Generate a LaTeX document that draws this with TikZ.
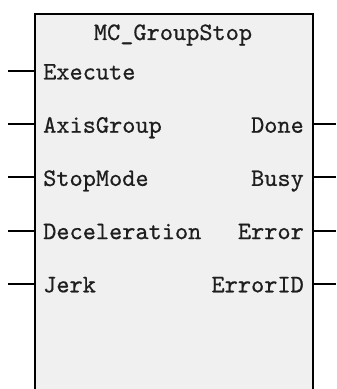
\documentclass[tikz,border=0pt]{standalone}
\usepackage{fontspec}
\usetikzlibrary{positioning}
\newfontfamily\fbfont{lmmono10-regular.otf}[FakeBold=0.6]
\definecolor{ink}{HTML}{1E1E1E}
\definecolor{blockfill}{HTML}{F0F0F0}
\tikzset{every node/.style={font=\fbfont\fontsize{25}{30}\selectfont,text=ink,inner sep=0pt},
 fblock/.style={draw=black,fill=blockfill,line width=2pt,minimum width=9.73cm,minimum height=13.6cm,anchor=north west},
 pin/.style={draw=black,line width=2pt}}

\begin{document}
\begin{tikzpicture}[x=0.035cm,y=-0.035cm]

\path[use as bounding box] (0,0) rectangle (336,389);
\clip (0,0) rectangle (336,389);
\node[fblock] (fb) at (34,13) {};
\node[anchor=base] (title) at (173,40) {MC\_GroupStop};
\foreach \lbl [count=\i] in {Execute,AxisGroup,StopMode,Deceleration,Jerk}{
 \pgfmathsetmacro\py{71+53.2*(\i-1)}
 \node[anchor=base west] (in\i) at (43,\py+8.5) {\lbl};
 \coordinate (inpin\i) at (8,\py);
 \draw[pin] (inpin\i) -- (inpin\i -| fb.west);
}
\foreach \lbl [count=\i from 2] in {Done,Busy,Error,ErrorID}{
 \pgfmathsetmacro\py{71+53.2*(\i-1)}
 \node[anchor=base east] (out\i) at (304,\py+8.5) {\lbl};
 \coordinate (outpin\i) at (336,\py);
 \draw[pin] (outpin\i -| fb.east) -- (outpin\i);
}

\end{tikzpicture}
\end{document}
